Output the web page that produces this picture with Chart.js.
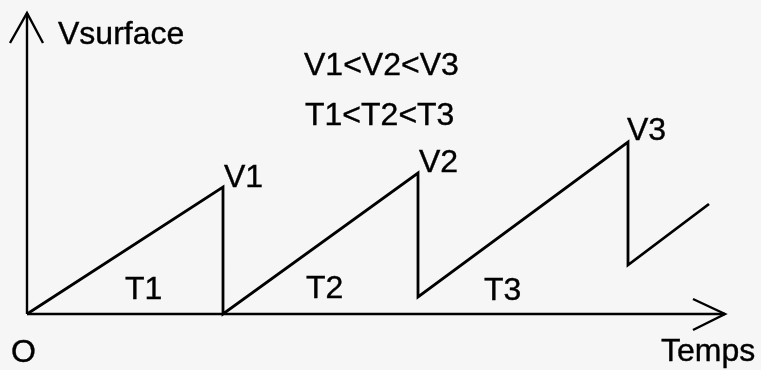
<!DOCTYPE html>
<html>
<head>
<meta charset="utf-8">
<script src="https://cdn.jsdelivr.net/npm/chart.js@4/dist/chart.umd.min.js"></script>
<style>
  html, body { margin: 0; padding: 0; background: #f6f6f6; }
  #wrap { width: 761px; height: 370px; position: relative; }
</style>
</head>
<body>
<div id="wrap"><canvas id="c"></canvas></div>
<script>
// Sawtooth surface voltage vs time (arbitrary units)
const sawTime    = [0, 19.6, 19.6, 39.1, 39.1, 60.1, 60.1, 68.2];
const sawVoltage = [0, 12.7, 0,    14.1, 1.7,  17.2, 4.9,  11.0];

// Axis arrows (same units)
const xAxisT = [0, 69.8];
const xAxisV = [0, 0];
const xHeadT = [66.6, 69.8, 66.6];
const xHeadV = [1.5, 0, -1.6];
const yAxisT = [0, 0];
const yAxisV = [0, 30.1];
const yHeadT = [-1.7, 0, 1.6];
const yHeadV = [27.1, 30.1, 27.1];

// Annotation texts and their anchor (left, baseline) in data units
const labelTexts = ['Vsurface', 'V1<V2<V3', 'T1<T2<T3', 'V1', 'V2', 'V3', 'T1', 'T2', 'T3', 'O', 'Temps'];
const labelT     = [3.1,  27.7, 27.8, 19.7, 39.2, 60.0, 9.8, 27.9, 45.7, -1.6, 63.4];
const labelV     = [27.0, 23.9, 18.9, 12.7, 14.2, 17.4, 1.5, 1.6,  1.4,  -4.8, -4.7];

const toPts = (xs, ys) => xs.map((x, i) => ({ x: x, y: ys[i] }));

const lineDs = (xs, ys, w) => ({
  data: toPts(xs, ys),
  borderColor: '#000',
  borderWidth: w,
  pointRadius: 0,
  tension: 0,
  fill: false,
  clip: false,
  showLine: true,
  borderJoinStyle: 'miter'
});

const textPlugin = {
  id: 'texts',
  afterDatasetsDraw(chart) {
    const ctx = chart.ctx;
    const xs = chart.scales.x, ys = chart.scales.y;
    ctx.save();
    ctx.fillStyle = '#000';
    ctx.strokeStyle = '#000';
    ctx.lineWidth = 0.4;
    ctx.font = '32px "Liberation Sans", Arial, sans-serif';
    ctx.textAlign = 'left';
    ctx.textBaseline = 'alphabetic';
    labelTexts.forEach((t, i) => {
      const px = xs.getPixelForValue(labelT[i]), py = ys.getPixelForValue(labelV[i]);
      ctx.fillText(t, px, py);
      ctx.strokeText(t, px, py);
    });
    ctx.restore();
  }
};

new Chart(document.getElementById('c'), {
  type: 'scatter',
  data: {
    datasets: [
      lineDs(sawTime, sawVoltage, 2.8),
      lineDs(xAxisT, xAxisV, 2.4),
      lineDs(xHeadT, xHeadV, 2.4),
      lineDs(yAxisT, yAxisV, 2.4),
      lineDs(yHeadT, yHeadV, 2.4)
    ]
  },
  options: {
    responsive: true,
    maintainAspectRatio: false,
    animation: false,
    layout: { padding: { left: 27, right: 0, top: 0, bottom: 56 } },
    plugins: { legend: { display: false }, tooltip: { enabled: false } },
    scales: {
      x: { type: 'linear', min: 0, max: 73.4, display: false },
      y: { type: 'linear', min: 0, max: 31.4, display: false }
    }
  },
  plugins: [textPlugin]
});
</script>
</body>
</html>
